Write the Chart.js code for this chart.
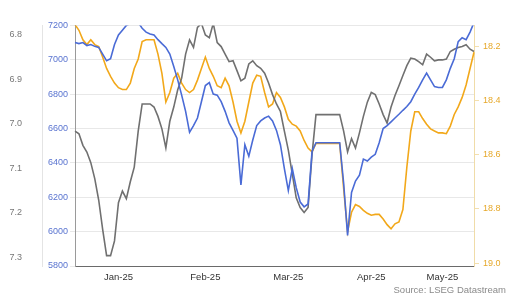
<!DOCTYPE html>
<html><head><meta charset="utf-8">
<script src="https://cdn.jsdelivr.net/npm/chart.js@4/dist/chart.umd.min.js"></script>
<style>html,body{margin:0;padding:0;background:#fff}#wrap{width:513px;height:296px;position:relative}</style>
</head><body><div id="wrap"><canvas id="c" width="513" height="296"></canvas></div>
<script>
// trading days 30-Dec-2024 .. ~21-May-2025
const holidays = ['2025-01-01'];
const dates = [];
(function(){
  let d = new Date(Date.UTC(2024, 11, 30));
  while (dates.length < 102) {
    const wd = d.getUTCDay();
    const s = d.toISOString().slice(0, 10);
    if (wd !== 0 && wd !== 6 && holidays.indexOf(s) < 0) dates.push(s);
    d.setUTCDate(d.getUTCDate() + 1);
  }
})();

const monthTickIndex = [11, 33, 54, 75, 93];
const monthTickLabels = ['Jan-25', 'Feb-25', 'Mar-25', 'Apr-25', 'May-25'];

// left outer axis (reversed)
const grayValues = [7.016,7.022,7.048,7.063,7.087,7.123,7.171,7.237,7.296,7.296,
7.263,7.177,7.151,7.168,7.130,7.097,7.016,6.955,6.955,6.955,
6.962,6.983,7.011,7.054,6.994,6.962,6.923,6.897,6.843,6.811,
6.828,6.783,6.774,6.800,6.806,6.774,6.817,6.826,6.843,6.860,
6.858,6.880,6.903,6.897,6.865,6.858,6.869,6.875,6.886,6.908,
6.934,6.955,6.972,7.016,7.059,7.112,7.166,7.188,7.199,7.188,
7.069,6.979,6.979,6.979,6.979,6.979,6.979,6.979,7.016,7.063,
7.033,7.054,7.020,6.983,6.951,6.929,6.934,6.955,6.979,6.998,
6.962,6.936,6.914,6.891,6.869,6.852,6.854,6.860,6.867,6.843,
6.850,6.858,6.856,6.856,6.854,6.837,6.832,6.828,6.826,6.822,
6.832,6.837];

// left inner axis
const blueValues = [7100,7094,7100,7083,7089,7078,7072,7033,6994,7006,
7089,7144,7172,7200,7211,7217,7217,7183,7161,7150,
7144,7117,7094,7072,7033,6961,6883,6794,6700,6578,
6617,6661,6756,6850,6867,6800,6794,6756,6700,6633,
6589,6544,6272,6506,6439,6533,6617,6644,6661,6672,
6644,6589,6506,6367,6239,6367,6256,6172,6144,6161,
6467,6517,6517,6517,6517,6517,6517,6517,6283,5978,
6228,6294,6328,6422,6411,6433,6450,6517,6600,6617,
6639,6661,6683,6706,6728,6756,6800,6839,6883,6922,
6883,6844,6839,6839,6883,6950,7006,7106,7128,7117,
7161,7217];

// right axis (reversed)
const orangeValues = [18.119,18.140,18.175,18.193,18.175,18.193,18.200,18.239,18.281,18.310,
18.335,18.352,18.359,18.359,18.335,18.281,18.246,18.182,18.175,18.175,
18.175,18.228,18.299,18.405,18.370,18.317,18.299,18.335,18.359,18.370,
18.359,18.324,18.281,18.239,18.281,18.310,18.345,18.352,18.317,18.345,
18.405,18.476,18.519,18.476,18.405,18.335,18.306,18.310,18.370,18.423,
18.412,18.370,18.388,18.423,18.469,18.487,18.494,18.512,18.547,18.575,
18.589,18.558,18.558,18.558,18.558,18.558,18.558,18.558,18.724,18.883,
18.812,18.784,18.791,18.805,18.816,18.823,18.820,18.820,18.837,18.858,
18.873,18.855,18.848,18.802,18.646,18.512,18.441,18.441,18.466,18.487,
18.504,18.512,18.519,18.519,18.522,18.494,18.451,18.423,18.388,18.342,
18.281,18.221];

const sourceText = 'Source: LSEG Datastream';
const FONT = "'Liberation Sans', Arial, sans-serif";

const sourcePlugin = {
  id: 'source',
  afterDraw(chart) {
    const ctx = chart.ctx;
    ctx.save();
    ctx.font = '9.5px ' + FONT;
    ctx.fillStyle = '#8a8a8a';
    ctx.textAlign = 'right';
    ctx.textBaseline = 'middle';
    ctx.fillText(sourceText, 506, 290);
    ctx.restore();
  }
};

new Chart(document.getElementById('c'), {
  type: 'line',
  data: {
    labels: dates,
    datasets: [
      { data: blueValues, yAxisID: 'yBlue', borderColor: '#4a6bd6', borderWidth: 1.6, pointRadius: 0, tension: 0 },
      { data: grayValues, yAxisID: 'yGray', borderColor: '#707070', borderWidth: 1.6, pointRadius: 0, tension: 0 },
      { data: orangeValues, yAxisID: 'yOrange', borderColor: '#f2a81a', borderWidth: 1.6, pointRadius: 0, tension: 0 }
    ]
  },
  options: {
    responsive: false,
    animation: false,
    layout: { padding: { top: 14, left: 0, right: 0, bottom: 0 } },
    plugins: { legend: { display: false }, tooltip: { enabled: false } },
    scales: {
      x: {
        type: 'category',
        grid: { drawOnChartArea: false, drawTicks: false },
        border: { display: true, color: '#6a6a6a', width: 1 },
        afterBuildTicks: (axis) => { axis.ticks = monthTickIndex.map(v => ({ value: v })); },
        afterFit: (s) => { s.height = 30; },
        ticks: {
          autoSkip: false, maxRotation: 0, minRotation: 0, padding: 6,
          color: '#333', font: { family: FONT, size: 9.5 },
          callback: (v) => monthTickLabels[monthTickIndex.indexOf(v)]
        }
      },
      yGray: {
        position: 'left', weight: 2, reverse: true,
        min: 6.7784, max: 7.3194,
        grid: { drawOnChartArea: false, drawTicks: false },
        border: { display: true, color: '#e4e4e4' },
        afterFit: (s) => { s.width = 42; },
        ticks: { stepSize: 0.1, includeBounds: false, padding: 20, color: '#777', font: { family: FONT, size: 9 },
          callback: (v) => Number(v).toFixed(1) }
      },
      yBlue: {
        position: 'left', weight: 1,
        min: 5800, max: 7200,
        grid: { color: '#e8e8e8', tickLength: 5 },
        border: { display: true, color: '#9a9a9a' },
        afterFit: (s) => { s.width = 33; },
        ticks: { stepSize: 200, padding: 2, color: '#5a74d0', font: { family: FONT, size: 9 },
          callback: (v) => String(Math.round(v)) }
      },
      yOrange: {
        position: 'right', reverse: true,
        min: 18.122, max: 19.0106,
        grid: { drawOnChartArea: false, tickLength: 5, color: '#f3dfae' },
        border: { display: true, color: '#f0dca8' },
        afterFit: (s) => { s.width = 39; },
        ticks: { stepSize: 0.2, includeBounds: false, padding: 4, color: '#e6a829', font: { family: FONT, size: 9 },
          callback: (v) => Number(v).toFixed(1) }
      }
    }
  },
  plugins: [sourcePlugin]
});
</script>
</body></html>
